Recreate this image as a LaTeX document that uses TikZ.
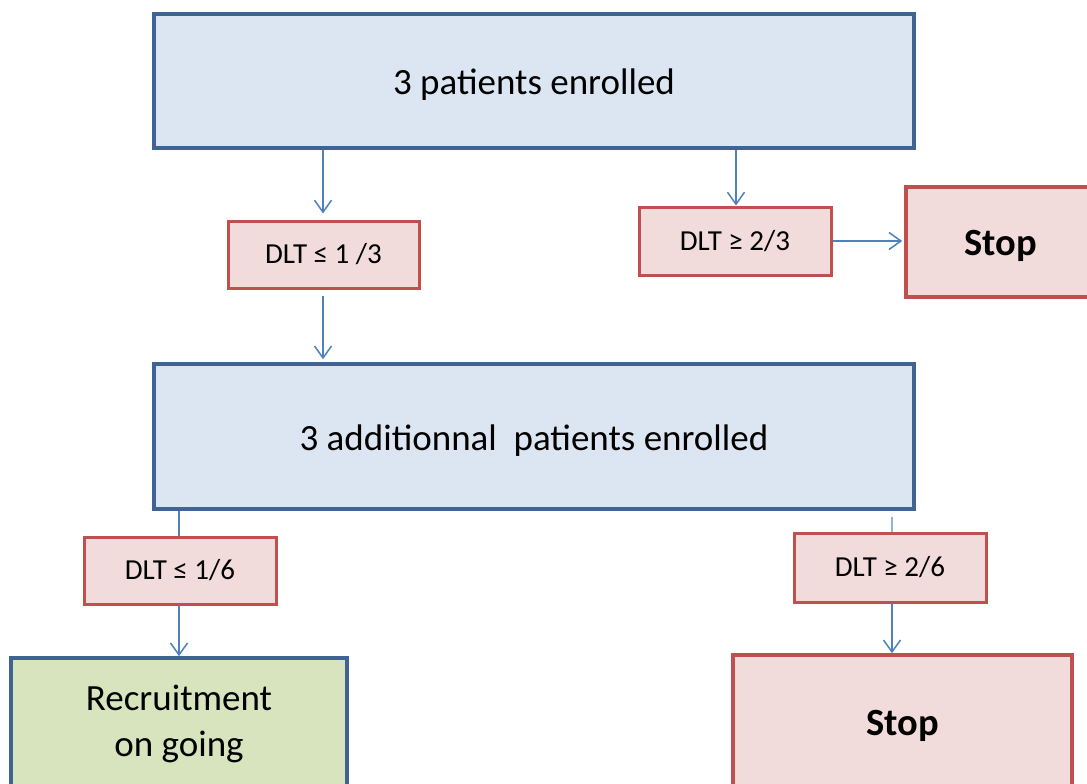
\documentclass[tikz,border=0pt]{standalone}
\usepackage{fontspec}
\setmainfont{Carlito}
\usetikzlibrary{arrows.meta}
\definecolor{bfill}{HTML}{DCE6F2}
\definecolor{bline}{HTML}{3F6493}
\definecolor{rfill}{HTML}{F2DCDB}
\definecolor{rline}{HTML}{C0504D}
\definecolor{gfill}{HTML}{D7E4BD}
\definecolor{arrc}{HTML}{4F81BD}
\definecolor{arrl}{HTML}{95B3D7}
\newcommand{\dn}[1]{\raisebox{-4pt}[\height][\depth]{#1}}
\tikzset{
  bluebox/.style={draw=bline, fill=bfill, line width=3.5pt, rectangle, inner sep=0pt, font=\fontsize{37}{46}\selectfont},
  redbox/.style={draw=rline, fill=rfill, line width=3.5pt, rectangle, inner sep=0pt, font=\fontsize{38.5}{46}\selectfont\bfseries},
  condbox/.style={draw=rline, fill=rfill, line width=3pt, rectangle, inner sep=0pt, font=\fontsize{29}{32}\selectfont},
  greenbox/.style={draw=bline, fill=gfill, line width=3.5pt, rectangle, inner sep=0pt, align=center, font=\fontsize{37}{46}\selectfont},
  arr/.style={draw=arrc, line width=1.5pt, -{Straight Barb[length=12pt,width=17pt]}},
  ln/.style={draw=arrc, line width=1.5pt}
}
\begin{document}
\begin{tikzpicture}[x=1pt,y=-1pt]
\useasboundingbox (0,0) rectangle (1087,784);
\clip (0,0) rectangle (1087,784);
\fill[white] (0,0) rectangle (1087,784);
\node[bluebox, minimum width=760pt, minimum height=134pt] (top) at (534,81) {\dn{3 patients enrolled}};
\node[condbox, minimum width=191pt, minimum height=67pt] (c13) at (323.5,254.5) {DLT ≤ 1 /3};
\node[condbox, minimum width=192pt, minimum height=68pt] (c23) at (735,241) {DLT ≥ 2/3};
\node[redbox, minimum width=190pt, minimum height=110pt] (stop1) at (1001,242) {\dn{Stop}};
\node[bluebox, minimum width=760pt, minimum height=145pt] (mid) at (534,436.5) {\dn{3 additionnal\ \ patients enrolled}};
\node[condbox, minimum width=192pt, minimum height=67pt] (c16) at (180,570.5) {DLT ≤ 1/6};
\node[greenbox, minimum width=336pt, minimum height=132pt] (rec) at (179,724) {Recruitment\\on going};
\node[condbox, minimum width=192pt, minimum height=69pt] (c26) at (890,567.5) {DLT ≥ 2/6};
\node[redbox, minimum width=339pt, minimum height=134pt] (stop2) at (902.5,722) {\dn{Stop}};

\coordinate (a1s) at ([xshift=-211pt]top.south);
\coordinate (a2s) at ([xshift=202pt]top.south);
\draw[arr, shorten >=6pt] (a1s) -- (a1s |- c13.north);
\draw[arr] (a2s) -- (a2s |- c23.north);
\draw[arr, shorten >=2pt] (c23.east) -- (c23.east -| stop1.west);
\draw[arr, shorten <=6pt, shorten >=3pt] (a1s |- c13.south) -- (a1s |- mid.north);
\coordinate (l1) at (179,0);
\draw[ln] (l1 |- mid.south) -- (l1 |- c16.north);
\draw[arr] (l1 |- c16.south) -- (l1 |- rec.north);
\coordinate (l2) at (892,0);
\draw[draw=arrl, line width=2pt] ([yshift=-6pt]l2 |- mid.south) -- (l2 |- c26.north);
\draw[arr] (l2 |- c26.south) -- (l2 |- stop2.north);
\end{tikzpicture}
\end{document}
